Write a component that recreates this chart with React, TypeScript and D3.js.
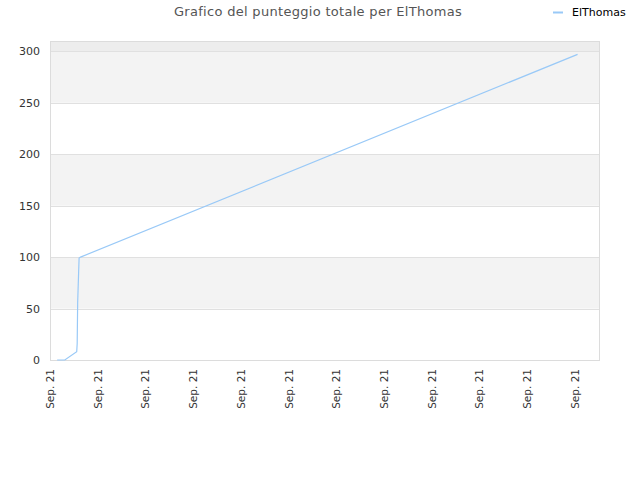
import React from "react";
import * as d3 from "d3";

const title = "Grafico del punteggio totale per ElThomas";
const seriesName = "ElThomas";
const dayOffsets = [0.15, 0.31, 0.56, 0.57, 0.58, 0.6, 0.61, 0.64, 11.06];
const scores = [0, 0, 8, 16, 56, 85, 99, 100, 297];
const yTicks = [0, 50, 100, 150, 200, 250, 300];
const xTickCount = 12;
const xTickLabel = "Sep. 21";

const W = 640, H = 480;
const M = { left: 50, right: 600, top: 41, bottom: 360 };
const base = new Date(2021, 8, 1).getTime();
const DAY = 86400000;

export default function App() {
  const x = d3.scaleTime()
    .domain([new Date(base), new Date(base + 11.53 * DAY)])
    .range([M.left, M.right]);
  const y = d3.scaleLinear().domain([0, 310]).range([M.bottom, M.top]);
  const data = dayOffsets.map((d, i) => ({ t: new Date(base + d * DAY), v: scores[i] }));
  const line = d3.line<{ t: Date; v: number }>().x(d => x(d.t)).y(d => y(d.v));
  const xTicks = d3.range(xTickCount).map(i => new Date(base + i * DAY));
  const bands = [[50, 100], [150, 200], [250, 300]];
  const font = "'DejaVu Sans', Verdana, sans-serif";
  return (
    <svg width={W} height={H} style={{ position: "absolute", left: 0, top: 0 }} fontFamily={font}>
      <rect width={W} height={H} fill="#fff" />
      {bands.map(([a, b], i) => (
        <rect key={i} x={M.left} width={M.right - M.left} y={y(b)} height={y(a) - y(b)} fill="#f3f3f3" />
      ))}
      <rect x={M.left} width={M.right - M.left} y={M.top} height={y(300) - M.top} fill="#ededed" />
      {yTicks.map(t => (
        <line key={t} x1={M.left} x2={M.right} y1={Math.round(y(t)) + 0.5} y2={Math.round(y(t)) + 0.5} stroke="#e0e0e0" />
      ))}
      <rect x={M.left + 0.5} y={M.top + 0.5} width={M.right - M.left - 1} height={M.bottom - M.top} fill="none" stroke="#dcdcdc" />
      <path d={line(data) || ""} fill="none" stroke="#99c9f7" strokeWidth={1.2} />
      {yTicks.map(t => (
        <text key={t} x={40} y={y(t) + 4} textAnchor="end" fontSize={11} fill="#333">{t}</text>
      ))}
      {xTicks.map((t, i) => (
        <text key={i} transform={`translate(${x(t) + 4},369) rotate(-90)`} textAnchor="end" fontSize={10.5} fill="#333">{xTickLabel}</text>
      ))}
      <text x={318} y={16} textAnchor="middle" fontSize={13} fill="#555" letterSpacing={0.3}>{title}</text>
      <line x1={553} x2={563} y1={12.5} y2={12.5} stroke="#99c9f7" strokeWidth={2} />
      <text x={572} y={16} fontSize={11} fill="#000">{seriesName}</text>
    </svg>
  );
}
